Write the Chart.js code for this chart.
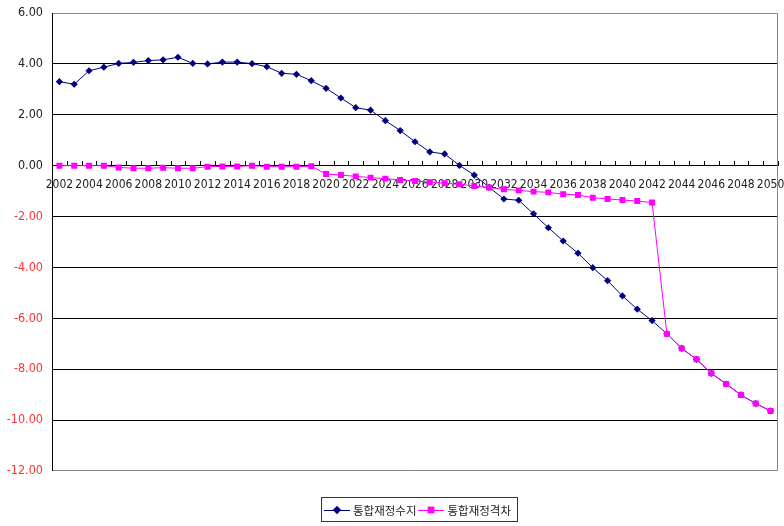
<!DOCTYPE html>
<html>
<head>
<meta charset="utf-8">
<script src="https://cdn.jsdelivr.net/npm/chart.js@4.4.1/dist/chart.umd.min.js"></script>
<style>
   html, body { margin: 0; padding: 0; background: #ffffff; }
   #wrap { position: relative; width: 784px; height: 526px; }
   #legend {
      position: absolute; left: 321px; top: 497px; width: 197px; height: 25px;
      border: 1px solid #333; box-sizing: border-box;
      display: flex; align-items: center; font: 11.5px "Noto Sans CJK KR", sans-serif; color: #222;
   }
   .item { display: flex; align-items: center; margin-left: 2px; }
   .sym { position: relative; width: 26px; height: 10px; margin-right: 3px; }
   .sym .ln { position: absolute; left: 0; right: 0; top: 5px; height: 1px; }
   .sym .mk { position: absolute; left: 9px; top: 1px; width: 8px; height: 8px; }
</style>
</head>
<body>
<div id="wrap">
   <canvas id="chart" width="784" height="526"></canvas>
   <div id="legend">
      <div class="item"><span class="sym"><span class="ln" style="background:#000080"></span><span class="mk" style="background:#000080;transform:rotate(45deg) scale(0.75);left:9px"></span></span><span>통합재정수지</span></div>
      <div class="item"><span class="sym"><span class="ln" style="background:#ff00ff"></span><span class="mk" style="background:#ff00ff;transform:scale(0.85)"></span></span><span>통합재정격차</span></div>
   </div>
</div>
<script>
const years = [];
for (let y = 2002; y <= 2050; y++) years.push(String(y));

const balance = [
   3.30, 3.20, 3.73, 3.87, 4.02, 4.06, 4.13, 4.16, 4.26, 4.02,
   4.00, 4.07, 4.07, 4.01, 3.89, 3.63, 3.59, 3.34, 3.04, 2.66,
   2.28, 2.18, 1.77, 1.38, 0.94, 0.54, 0.46, 0.01, -0.37, -0.85,
   -1.31, -1.36, -1.89, -2.44, -2.96, -3.44, -4.01, -4.52, -5.12, -5.64,
   -6.09, -6.61, -7.18, -7.61, -8.16, -8.58, -9.01, -9.35, -9.64
];

const gap = [
   0.00, 0.00, 0.00, 0.00, -0.07, -0.10, -0.10, -0.08, -0.10, -0.10,
   -0.04, -0.03, -0.03, 0.00, -0.04, -0.04, -0.04, -0.02, -0.33, -0.37,
   -0.42, -0.47, -0.51, -0.56, -0.60, -0.65, -0.69, -0.73, -0.80, -0.86,
   -0.93, -0.97, -1.02, -1.05, -1.12, -1.15, -1.26, -1.31, -1.35, -1.39,
   -1.45, -6.61, -7.18, -7.61, -8.16, -8.58, -9.01, -9.35, -9.64
];

const yTicks = [6, 4, 2, 0, -2, -4, -6, -8, -10, -12];

const FONT = "'Liberation Sans Narrow', 'DejaVu Sans Condensed', sans-serif";

function noPadding(s) {
   s.paddingLeft = 0;
   s.paddingRight = 0;
   s.paddingTop = 0;
   s.paddingBottom = 0;
}

// plot frame + category tick marks pointing up from the zero line
const framePlugin = {
   id: "frame",
   beforeDatasetsDraw(chart) {
      const { ctx, chartArea } = chart;
      const xs = chart.scales.x;
      const y0 = chart.scales.y.getPixelForValue(0);
      ctx.save();
      ctx.strokeStyle = "#888888";
      ctx.lineWidth = 1;
      ctx.beginPath();
      ctx.moveTo(chartArea.left, chartArea.top + 0.5);
      ctx.lineTo(chartArea.right - 0.5, chartArea.top + 0.5);
      ctx.lineTo(chartArea.right - 0.5, chartArea.bottom - 0.5);
      ctx.lineTo(chartArea.left, chartArea.bottom - 0.5);
      ctx.stroke();
      ctx.strokeStyle = "#000000";
      ctx.beginPath();
      ctx.moveTo(chartArea.left + 0.5, chartArea.top);
      ctx.lineTo(chartArea.left + 0.5, chartArea.bottom);
      const n = years.length;
      for (let i = 0; i <= n; i++) {
         const x = Math.round(xs.left + i * xs.width / n) + 0.5;
         ctx.moveTo(x, Math.round(y0) - 5);
         ctx.lineTo(x, Math.round(y0));
      }
      ctx.stroke();
      ctx.restore();
   }
};

new Chart(document.getElementById("chart"), {
   type: "line",
   data: {
      labels: years,
      datasets: [
         {
            label: "통합재정수지",
            data: balance,
            borderColor: "#000080",
            backgroundColor: "#000080",
            borderWidth: 1,
            pointStyle: "rectRot",
            pointRadius: 3.6,
            pointBorderWidth: 0,
            tension: 0,
            order: 2
         },
         {
            label: "통합재정격차",
            data: gap,
            borderColor: "#ff00ff",
            backgroundColor: "#ff00ff",
            borderWidth: 1,
            pointStyle: "rect",
            pointRadius: 4.2,
            pointBorderWidth: 0,
            tension: 0,
            order: 1
         }
      ]
   },
   options: {
      responsive: false,
      animation: false,
      layout: { padding: { left: 0, top: 13, right: 6, bottom: 55 } },
      plugins: { legend: { display: false }, tooltip: { enabled: false } },
      scales: {
         x: {
            type: "category",
            position: { y: 0 },
            offset: true,
            afterFit: noPadding,
            grid: { display: true, drawOnChartArea: false, drawTicks: false },
            border: { display: false },
            ticks: {
               autoSkip: false,
               maxRotation: 0,
               padding: 12,
               color: "#222222",
               font: { family: FONT, size: 12 },
               callback: (v, i) => (i % 2 === 0 ? years[i] : "")
            }
         },
         y: {
            min: -12,
            max: 6,
            afterFit: (s) => { s.width = 52; noPadding(s); },
            afterBuildTicks: (s) => { s.ticks = yTicks.map((v) => ({ value: v })); },
            grid: {
               color: (c) => (c.tick && (c.tick.value === 6 || c.tick.value === -12) ? "transparent" : "#000000"),
               lineWidth: 1,
               drawTicks: false
            },
            border: { display: false },
            ticks: {
               padding: 9,
               font: { family: FONT, size: 12.5 },
               color: (c) => (c.tick && c.tick.value < 0 ? "#ff3333" : "#222222"),
               callback: (v) => v.toFixed(2)
            }
         }
      }
   },
   plugins: [framePlugin]
});
</script>
</body>
</html>
